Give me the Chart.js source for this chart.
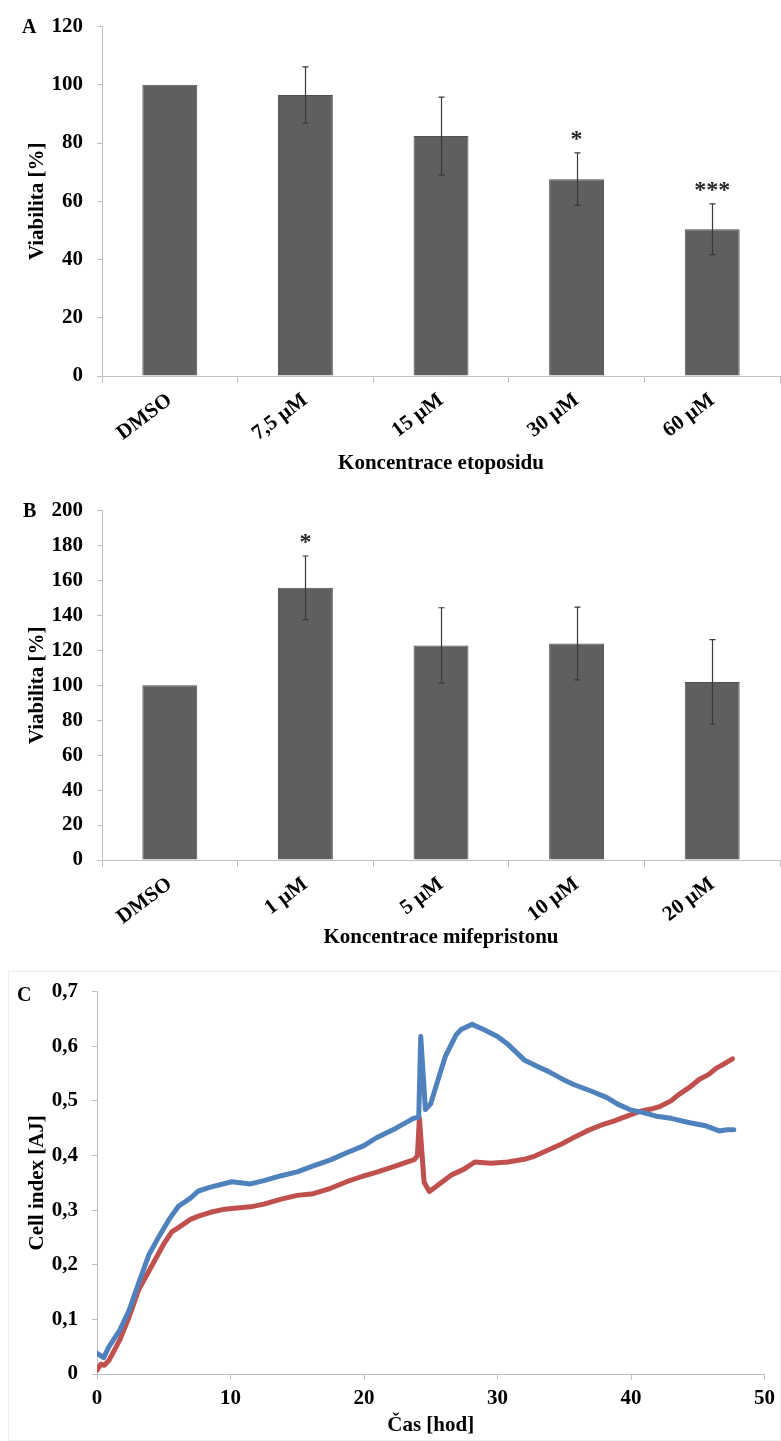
<!DOCTYPE html>
<html>
<head>
<meta charset="utf-8">
<script src="https://cdn.jsdelivr.net/npm/chart.js@4"></script>
<style>
  body { margin: 0; background: #fff; width: 781px; height: 1441px; position: relative; overflow: hidden; }
  .panel { position: absolute; left: 0; width: 781px; }
  .letter { position: absolute; font: bold 20px "Liberation Serif", "Times New Roman", serif; line-height: 20px; color: #000; }
  #frameC { position: absolute; left: 8px; top: 971px; width: 773px; height: 470px; border: 1px solid #eeeeee; box-sizing: border-box; }
</style>
</head>
<body>
<div id="frameC"></div>
<div class="panel" style="top:0px"><canvas id="chartA" width="781" height="480"></canvas></div>
<div class="panel" style="top:484px"><canvas id="chartB" width="781" height="480"></canvas></div>
<div class="panel" style="top:965px"><canvas id="chartC" width="781" height="476"></canvas></div>
<div class="letter" style="left:22px; top:16px">A</div>
<div class="letter" style="left:23px; top:500px">B</div>
<div class="letter" style="left:17px; top:984px">C</div>

<script>
// A - etoposid
const catsA = ['DMSO', '7,5 µM', '15 µM', '30 µM', '60 µM'];
const valsA = [100, 96.5, 82.4, 67.6, 50.4];
const errA = [0, 9.7, 13.4, 9.0, 8.7];
const sigA = ['', '', '', '*', '***'];

// B - mifepriston
const catsB = ['DMSO', '1 µM', '5 µM', '10 µM', '20 µM'];
const valsB = [100, 155.8, 122.8, 123.9, 101.9];
const errB = [0, 18.2, 21.6, 20.8, 24.2];
const sigB = ['', '*', '', '', ''];

// C - cell index v case
const timeBlue = [0, 0.5, 0.9, 1.7, 2.4, 3.1, 3.9, 4.6, 5.4, 6.1, 7.0, 7.6, 8.5, 10.1, 11.5, 12.5, 13.8, 15.0, 16.2, 17.5,
  18.7, 20.0, 20.9, 22.4, 23.7, 24.1, 24.25, 24.6, 25.0, 25.4, 26.1, 26.9, 27.3, 28.1, 29.0, 30.0, 30.8, 32.0, 33.0, 33.8,
  35.0, 35.7, 37.0, 38.2, 39.0, 39.9, 41.0, 41.9, 43.0, 44.4, 45.5, 46.6, 47.2, 47.7];
const cellBlue = [0.038, 0.030, 0.050, 0.080, 0.116, 0.165, 0.219, 0.250, 0.283, 0.307, 0.322, 0.335, 0.342, 0.352, 0.348, 0.354, 0.363, 0.370, 0.381, 0.392,
  0.405, 0.418, 0.432, 0.450, 0.468, 0.470, 0.618, 0.484, 0.495, 0.527, 0.582, 0.621, 0.631, 0.640, 0.630, 0.618, 0.603, 0.575, 0.563, 0.554,
  0.538, 0.530, 0.518, 0.506, 0.494, 0.484, 0.478, 0.472, 0.468, 0.460, 0.455, 0.445, 0.447, 0.447];
const timeRed = [0, 0.3, 0.55, 0.9, 1.7, 2.4, 3.1, 3.9, 5.0, 5.6, 6.1, 7.0, 7.6, 8.5, 9.4, 10.1, 11.5, 12.5, 13.8, 15.0,
  16.2, 17.5, 18.7, 19.9, 20.9, 22.4, 23.8, 24.0, 24.15, 24.5, 24.9, 25.5, 26.6, 27.5, 28.3, 29.5, 30.8, 32.0, 32.8, 33.8,
  34.8, 35.8, 36.7, 37.7, 38.7, 39.7, 40.7, 41.5, 42.2, 43.0, 43.6, 44.4, 45.1, 45.8, 46.4, 47.0, 47.6];
const cellRed = [0.007, 0.018, 0.016, 0.025, 0.062, 0.104, 0.153, 0.189, 0.238, 0.260, 0.268, 0.283, 0.289, 0.296, 0.301, 0.303, 0.306, 0.311, 0.320, 0.327,
  0.330, 0.340, 0.352, 0.362, 0.369, 0.381, 0.393, 0.400, 0.469, 0.351, 0.334, 0.345, 0.365, 0.375, 0.388, 0.386, 0.388, 0.393, 0.399, 0.410,
  0.421, 0.434, 0.445, 0.455, 0.463, 0.472, 0.481, 0.485, 0.490, 0.500, 0.512, 0.525, 0.539, 0.548, 0.560, 0.568, 0.577];

Chart.defaults.font.family = '"Liberation Serif", "Times New Roman", serif';
Chart.defaults.font.size = 21;
Chart.defaults.font.weight = 'bold';
Chart.defaults.color = '#000';

const axisGrey = '#bfbfbf';

// error bars + asterisks over the bars
function errorBarPlugin(values, errors, marks) {
  return {
    id: 'errorBars',
    afterDatasetsDraw(chart) {
      const ctx = chart.ctx;
      const y = chart.scales.y;
      const meta = chart.getDatasetMeta(0);
      ctx.save();
      ctx.strokeStyle = '#3a3a3a';
      ctx.lineWidth = 1.2;
      meta.data.forEach((bar, i) => {
        const bx = Math.round(bar.x) + 0.5;
        let top = y.getPixelForValue(values[i]);
        if (errors[i]) {
          top = y.getPixelForValue(values[i] + errors[i]);
          const bot = y.getPixelForValue(values[i] - errors[i]);
          ctx.beginPath();
          ctx.moveTo(bx, top); ctx.lineTo(bx, bot);
          ctx.moveTo(bx - 3, top); ctx.lineTo(bx + 3, top);
          ctx.moveTo(bx - 3, bot); ctx.lineTo(bx + 3, bot);
          ctx.stroke();
        }
        if (marks[i]) {
          ctx.fillStyle = '#262626';
          ctx.font = 'bold 24px "Liberation Serif", serif';
          ctx.textAlign = 'center';
          ctx.textBaseline = 'alphabetic';
          ctx.fillText(marks[i], bar.x, top - 7);
        }
      });
      ctx.restore();
    }
  };
}

function barChart(id, cats, values, errors, marks, maxY, xTitle, titlePad) {
  return new Chart(document.getElementById(id), {
    type: 'bar',
    data: {
      labels: cats,
      datasets: [{
        data: values,
        backgroundColor: '#5f5f5f',
        borderColor: '#505050',
        borderWidth: 1,
        categoryPercentage: 1,
        barPercentage: 0.405
      }]
    },
    options: {
      responsive: false,
      animation: false,
      layout: { padding: { top: 22, right: 1, left: 0, bottom: 0 } },
      plugins: { legend: { display: false }, tooltip: { enabled: false } },
      scales: {
        x: {
          grid: { offset: true, drawOnChartArea: false, tickLength: 7, color: axisGrey },
          border: { color: axisGrey },
          ticks: { autoSkip: false, minRotation: 37, maxRotation: 37, padding: 5 },
          title: { display: true, text: xTitle, padding: { top: 0, bottom: titlePad } },
          afterFit: s => { s.height = 104; }
        },
        y: {
          min: 0, max: maxY,
          ticks: { stepSize: 20, padding: 14 },
          grid: { drawOnChartArea: false, tickLength: 5, color: axisGrey },
          border: { color: axisGrey },
          title: { display: true, text: 'Viabilita [%]', padding: { top: 25, bottom: 0 } },
          afterFit: s => { s.width = 102; }
        }
      }
    },
    plugins: [errorBarPlugin(values, errors, marks)]
  });
}

barChart('chartA', catsA, valsA, errA, sigA, 120, 'Koncentrace etoposidu', 4);
barChart('chartB', catsB, valsB, errB, sigB, 200, 'Koncentrace mifepristonu', 14);

function toPoints(xs, ys) {
  return xs.map((t, i) => ({ x: t, y: ys[i] }));
}

const lineStyle = { borderWidth: 5, pointRadius: 0, tension: 0, borderCapStyle: 'round', borderJoinStyle: 'round', fill: false };

new Chart(document.getElementById('chartC'), {
  type: 'line',
  data: {
    datasets: [
      Object.assign({ data: toPoints(timeBlue, cellBlue), borderColor: '#4f81bd' }, lineStyle),
      Object.assign({ data: toPoints(timeRed, cellRed), borderColor: '#c0504d' }, lineStyle)
    ]
  },
  options: {
    responsive: false,
    animation: false,
    layout: { padding: { top: 25, right: 10, left: 0, bottom: 0 } },
    plugins: { legend: { display: false }, tooltip: { enabled: false } },
    scales: {
      x: {
        type: 'linear', min: 0, max: 50,
        ticks: { stepSize: 10, padding: 6 },
        grid: { drawOnChartArea: false, tickLength: 6, color: axisGrey },
        border: { color: axisGrey },
        title: { display: true, text: 'Čas [hod]', padding: { top: 0, bottom: 3 } },
        afterFit: s => { s.height = 67; }
      },
      y: {
        min: 0, max: 0.7,
        ticks: {
          stepSize: 0.1, padding: 14,
          callback: v => v === 0 ? '0' : v.toFixed(1).replace('.', ',')
        },
        grid: { drawOnChartArea: false, tickLength: 5, color: axisGrey },
        border: { color: axisGrey },
        title: { display: true, text: 'Cell index [AJ]', padding: { top: 25, bottom: 0 } },
        afterFit: s => { s.width = 97; }
      }
    }
  }
});
</script>
</body>
</html>
